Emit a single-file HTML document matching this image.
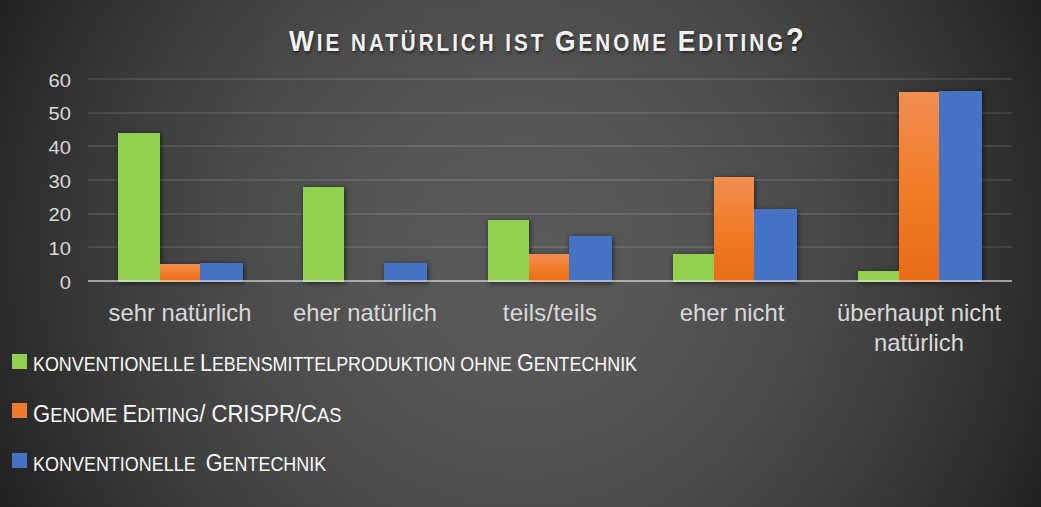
<!DOCTYPE html>
<html><head><meta charset="utf-8">
<style>
html,body{margin:0;padding:0;}
html{background:#262626;}
body{width:1041px;height:507px;overflow:hidden;position:relative;
background:radial-gradient(circle at 520.5px 253.5px, rgb(89,89,89) 0px, rgb(88,88,88) 50px, rgb(87,87,87) 100px, rgb(85,85,85) 150px, rgb(81,81,81) 200px, rgb(78,78,78) 250px, rgb(73,73,73) 300px, rgb(67,67,67) 350px, rgb(61,61,61) 400px, rgb(54,54,54) 450px, rgb(46,46,46) 500px, rgb(37,37,37) 550px, rgb(28,28,28) 600px, rgb(20,20,20) 650px);
font-family:"Liberation Sans",sans-serif;color:#e6e6e6;}
.abs{position:absolute;}
.grid{position:absolute;left:88px;width:924px;height:2px;background:rgba(255,255,255,0.1);}
.axis{position:absolute;left:88px;width:924px;top:280px;height:2px;background:rgba(230,230,230,0.6);}
.yl{position:absolute;left:20px;width:51px;text-align:right;font-size:17.5px;line-height:21px;transform:scaleX(1.15);transform-origin:100% 0;color:#d9d9d9;}
.bar{position:absolute;}
.sh{position:absolute;box-shadow:1px 1px 5px rgba(0,0,0,0.6);}
.g{background:#92d050;}
.o{background:linear-gradient(#f18e50,#f27c28 50%,#e86c14);}
.b{background:#4472c4;}
.cl{position:absolute;width:184px;text-align:center;font-size:23.8px;line-height:30px;color:#d9d9d9;}
.title{position:absolute;top:22.5px;left:289px;white-space:nowrap;font-weight:bold;color:#f2f2f2;font-size:30px;line-height:36px;letter-spacing:3.35px;transform:scaleX(0.88);transform-origin:0 0;text-shadow:1px 2px 3px rgba(0,0,0,0.5);}
.title .s{font-size:23.5px;}
.lg{position:absolute;left:33px;transform:scaleX(0.947);transform-origin:0 0;font-size:23.5px;line-height:30px;color:#fafafa;white-space:nowrap;}
.lg .s{font-size:19.5px;}
.sq{position:absolute;left:12px;width:15px;height:15px;}
</style></head><body>
<div class="title">W<span class="s">IE NATÜRLICH IST </span>G<span class="s">ENOME </span>E<span class="s">DITING</span><span style="font-size:33px;letter-spacing:0;line-height:0">?</span></div>

<div class="grid" style="top:78px"></div>
<div class="grid" style="top:112px"></div>
<div class="grid" style="top:145px"></div>
<div class="grid" style="top:179px"></div>
<div class="grid" style="top:213px"></div>
<div class="grid" style="top:246px"></div>

<div class="yl" style="top:71px">60</div>
<div class="yl" style="top:104px">50</div>
<div class="yl" style="top:138px">40</div>
<div class="yl" style="top:172px">30</div>
<div class="yl" style="top:205px">20</div>
<div class="yl" style="top:239px">10</div>
<div class="yl" style="top:273px">0</div>

<!-- bars -->
<div class="sh" style="left:118px;width:42px;top:133px;height:149px"></div>
<div class="sh" style="left:160px;width:40px;top:264px;height:18px"></div>
<div class="sh" style="left:200px;width:43px;top:263px;height:19px"></div>
<div class="sh" style="left:303px;width:41px;top:187px;height:95px"></div>
<div class="sh" style="left:384px;width:43px;top:263px;height:19px"></div>
<div class="sh" style="left:488px;width:41px;top:220px;height:62px"></div>
<div class="sh" style="left:529px;width:40px;top:254px;height:28px"></div>
<div class="sh" style="left:569px;width:43px;top:236px;height:46px"></div>
<div class="sh" style="left:673px;width:41px;top:254px;height:28px"></div>
<div class="sh" style="left:714px;width:40px;top:177px;height:105px"></div>
<div class="sh" style="left:754px;width:43px;top:209px;height:73px"></div>
<div class="sh" style="left:858px;width:41px;top:271px;height:11px"></div>
<div class="sh" style="left:899px;width:40px;top:92px;height:190px"></div>
<div class="sh" style="left:939px;width:43px;top:91px;height:191px"></div>

<div class="bar g" style="left:118px;width:42px;top:133px;height:149px"></div>
<div class="bar o" style="left:160px;width:40px;top:264px;height:18px"></div>
<div class="bar b" style="left:200px;width:43px;top:263px;height:19px"></div>
<div class="bar g" style="left:303px;width:41px;top:187px;height:95px"></div>
<div class="bar b" style="left:384px;width:43px;top:263px;height:19px"></div>
<div class="bar g" style="left:488px;width:41px;top:220px;height:62px"></div>
<div class="bar o" style="left:529px;width:40px;top:254px;height:28px"></div>
<div class="bar b" style="left:569px;width:43px;top:236px;height:46px"></div>
<div class="bar g" style="left:673px;width:41px;top:254px;height:28px"></div>
<div class="bar o" style="left:714px;width:40px;top:177px;height:105px"></div>
<div class="bar b" style="left:754px;width:43px;top:209px;height:73px"></div>
<div class="bar g" style="left:858px;width:41px;top:271px;height:11px"></div>
<div class="bar o" style="left:899px;width:40px;top:92px;height:190px"></div>
<div class="bar b" style="left:939px;width:43px;top:91px;height:191px"></div>

<div class="axis"></div>

<div class="cl" style="left:88px;top:298px">sehr natürlich</div>
<div class="cl" style="left:273px;top:298px">eher natürlich</div>
<div class="cl" style="left:458px;top:298px;letter-spacing:0.3px">teils/teils</div>
<div class="cl" style="left:640px;top:298px">eher nicht</div>
<div class="cl" style="left:827px;top:298px">überhaupt nicht<br>natürlich</div>

<div class="sq" style="top:354px;background:#92d050"></div>
<div class="sq" style="top:403px;background:#f07a2c"></div>
<div class="sq" style="top:453px;background:#4472c4"></div>

<div class="lg" style="top:348px;transform:scaleX(0.917)"><span class="s">KONVENTIONELLE </span>L<span class="s">EBENSMITTELPRODUKTION OHNE </span>G<span class="s">ENTECHNIK</span></div>
<div class="lg" style="top:398.5px;transform:scaleX(0.939)">G<span class="s">ENOME </span>E<span class="s">DITING</span>/ CRISPR/C<span class="s">AS</span></div>
<div class="lg" style="top:447.5px;transform:scaleX(0.921)"><span class="s">KONVENTIONELLE &nbsp;</span>G<span class="s">ENTECHNIK</span></div>
</body></html>
